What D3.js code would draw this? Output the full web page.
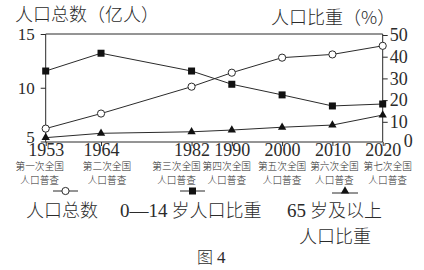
<!DOCTYPE html>
<html>
<head>
<meta charset="utf-8">
<script src="https://cdn.jsdelivr.net/npm/d3@7"></script>
<style>
  body { margin: 0; background: #fff; }
  svg { display: block; }
  .num { font-family: "Liberation Serif", "DejaVu Serif", serif; fill: #2b2b2b; font-weight: 400; }
  .cjk { font-family: "Noto Sans CJK SC", sans-serif; fill: #2b2b2b; font-weight: 300; }
</style>
</head>
<body>
<svg id="chart" width="424" height="270"></svg>
<script>
const years = [1953, 1964, 1982, 1990, 2000, 2010, 2020];
const censusNames = ["第一次全国", "第二次全国", "第三次全国", "第四次全国", "第五次全国", "第六次全国", "第七次全国"];
const totalPop = [6.2, 7.6, 10.1, 11.4, 12.8, 13.1, 13.9];   // 亿人
const youngShare = [33.4, 41.6, 33.4, 27.3, 22.4, 17.3, 18.2]; // 0-14 %
const oldShare = [2.7, 4.7, 5.4, 6.2, 7.5, 8.5, 13.1];        // 65+ %
const leftTicks = [5, 10, 15];
const rightTicks = [0, 10, 20, 30, 40, 50];

const ink = "#2b2b2b";
const svg = d3.select("#chart");

const x = d3.scaleLinear().domain([1953, 2020]).range([45.7, 382.7]);
const yL = d3.scaleLinear().domain([5, 15]).range([141.5, 34]);
const yR = d3.scaleLinear().domain([0, 50]).range([143.5, 35]);
const bottom = 142;

// frame
svg.append("path")
  .attr("d", `M${x(1953)},${bottom}V34H${x(2020)}V${bottom}H${x(1953)}`)
  .attr("stroke", ink).attr("stroke-width", 1).attr("fill", "none");

// left axis
const leftAxis = svg.append("g")
  .attr("transform", `translate(${x(1953)},0)`)
  .call(d3.axisLeft(yL).tickValues(leftTicks).tickSize(5).tickPadding(6));
leftAxis.select(".domain").remove();
leftAxis.selectAll("line").attr("stroke", ink);
leftAxis.selectAll("text").attr("class", "num").attr("font-size", 17).attr("fill", ink)
  .attr("dy", d => d === 5 ? "0.05em" : "0.32em");

// right axis
const rightAxis = svg.append("g")
  .attr("transform", `translate(${x(2020)},0)`)
  .call(d3.axisRight(yR).tickValues(rightTicks.filter(d => d > 0)).tickSize(5).tickPadding(2));
rightAxis.select(".domain").remove();
rightAxis.selectAll("line").attr("stroke", ink);
rightAxis.selectAll("text").attr("class", "num").attr("font-size", 18).attr("fill", ink);
svg.append("text").attr("class", "num").attr("font-size", 18)
  .attr("x", x(2020) + 21).attr("y", yR(0) + 3).text(rightTicks[0]);

// bottom ticks and labels
const bottomAxis = svg.append("g")
  .attr("transform", `translate(0,${bottom})`)
  .call(d3.axisBottom(x).tickValues(years).tickFormat(d3.format("d")).tickSize(4).tickPadding(0));
bottomAxis.select(".domain").remove();
bottomAxis.selectAll("line").attr("stroke", ink);
bottomAxis.selectAll("text").attr("class", "num").attr("font-size", 18).attr("fill", ink)
  .attr("dy", "0.55em");

const nudge = [-6, 6, -15, -5, 0, 2, 5];
const sub = svg.append("g").attr("class", "cjk").attr("font-size", 9.7).attr("text-anchor", "middle");
sub.selectAll(".n1").data(years).join("text")
  .attr("x", (d, i) => x(d) + nudge[i]).attr("y", 170)
  .text((d, i) => censusNames[i]);
sub.selectAll(".n2").data(years).join("text")
  .attr("x", (d, i) => x(d) + nudge[i]).attr("y", 184)
  .text("人口普查");

// lines
function series(vals, yScale) {
  return years.map((yr, i) => [x(yr), yScale(vals[i])]);
}
const line = d3.line();
const pTotal = series(totalPop, yL);
const pYoung = series(youngShare, yR);
const pOld = series(oldShare, yR);

[pTotal, pYoung, pOld].forEach(p => {
  svg.append("path").attr("d", line(p)).attr("fill", "none").attr("stroke", ink).attr("stroke-width", 1);
});

const tri = d3.symbol().type(d3.symbolTriangle).size(30);
svg.append("g").selectAll("path").data(pOld).join("path")
  .attr("transform", d => `translate(${d[0]},${d[1]})`).attr("d", tri()).attr("fill", "#111");
svg.append("g").selectAll("rect").data(pYoung).join("rect")
  .attr("x", d => d[0] - 3.5).attr("y", d => d[1] - 3.5).attr("width", 7).attr("height", 7).attr("fill", "#111");
svg.append("g").selectAll("circle").data(pTotal).join("circle")
  .attr("cx", d => d[0]).attr("cy", d => d[1]).attr("r", 3.6)
  .attr("fill", "#fff").attr("stroke", ink).attr("stroke-width", 1);

// titles
svg.append("text").attr("class", "cjk").attr("font-size", 18).attr("x", 15).attr("y", 21).text("人口总数（亿人）");
svg.append("text").attr("class", "cjk").attr("font-size", 18).attr("x", 271).attr("y", 24).text("人口比重（%）");

// legend
const lg = svg.append("g");
lg.append("line").attr("x1", 53).attr("x2", 78).attr("y1", 191).attr("y2", 191).attr("stroke", ink);
lg.append("circle").attr("cx", 65.5).attr("cy", 191).attr("r", 3.6).attr("fill", "#fff").attr("stroke", ink);
lg.append("line").attr("x1", 180).attr("x2", 205).attr("y1", 191).attr("y2", 191).attr("stroke", ink);
lg.append("rect").attr("x", 189).attr("y", 187.5).attr("width", 7).attr("height", 7).attr("fill", "#111");
lg.append("line").attr("x1", 332).attr("x2", 358).attr("y1", 193).attr("y2", 193).attr("stroke", ink);
lg.append("path").attr("transform", "translate(345,191)").attr("d", tri()).attr("fill", "#111");

lg.append("text").attr("class", "cjk").attr("font-size", 18).attr("x", 26).attr("y", 217).text("人口总数");
lg.append("text").attr("class", "cjk").attr("font-size", 18).attr("x", 120).attr("y", 217)
  .html('<tspan class="num" font-size="19">0—14</tspan> 岁人口比重');
lg.append("text").attr("class", "cjk").attr("font-size", 18).attr("x", 287).attr("y", 217)
  .html('<tspan class="num" font-size="19">65</tspan> 岁及以上');
lg.append("text").attr("class", "cjk").attr("font-size", 18).attr("x", 299).attr("y", 243).text("人口比重");

svg.append("text").attr("class", "cjk").attr("font-size", 16).attr("x", 197).attr("y", 263).text("图");
svg.append("text").attr("class", "num").attr("font-size", 17).attr("x", 217).attr("y", 263).text("4");
</script>
</body>
</html>
